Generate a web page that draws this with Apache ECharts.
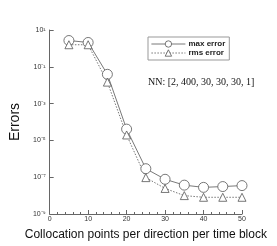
<!DOCTYPE html>
<html><head><meta charset="utf-8">
<script src="https://cdn.jsdelivr.net/npm/echarts@6/dist/echarts.min.js"></script>
<style>html,body{margin:0;padding:0;background:#fff}#c{width:277px;height:246px}</style>
</head><body><div id="c"></div>
<script>
const xValues = [5, 10, 15, 20, 25, 30, 35, 40, 45, 50];
const maxError = [2.68, 2.1, 0.039, 4.1e-5, 2.9e-7, 7.7e-8, 3.7e-8, 2.8e-8, 3.1e-8, 3.5e-8];
const rmsError = [1.58, 1.58, 0.0147, 1.97e-5, 9.5e-8, 2.45e-8, 1.0e-8, 8.1e-9, 8.1e-9, 8.1e-9];
const seriesNames = ['max error', 'rms error'];
const annotation = 'NN: [2, 400, 30, 30, 30, 1]';
const xTitle = 'Collocation points per direction per time block';
const yTitle = 'Errors';

const sup = {'-':'\u207B','0':'\u2070','1':'\u00B9','2':'\u00B2','3':'\u00B3','4':'\u2074','5':'\u2075','6':'\u2076','7':'\u2077','8':'\u2078','9':'\u2079'};
function supStr(n){return String(n).split('').map(c=>sup[c]).join('');}

const chart = echarts.init(document.getElementById('c'), null, {renderer:'canvas'});
const lineCol = '#555';
chart.setOption({
  animation:false,
  backgroundColor:'#fff',
  grid:{left:36, top:30, width:206, height:187, containLabel:false},
  legend:{
    orient:'vertical', left:148, top:37, padding:[3,4,3,3],
    borderColor:'#999', borderWidth:1,
    itemWidth:34, itemHeight:8, itemGap:1,
    lineStyle:{width:0.8},
    itemStyle:{borderWidth:0.8, color:'#fff'},
    textStyle:{fontSize:8, fontFamily:'Liberation Sans', color:'#222', fontWeight:'bold', padding:[0,0,0,-2]},
    data:seriesNames
  },
  xAxis:{
    type:'value', min:0, max:50, interval:10,
    name:xTitle, nameLocation:'middle', nameGap:15,
    nameTextStyle:{fontSize:12, fontFamily:'Liberation Sans', color:'#111'},
    axisLine:{lineStyle:{color:'#666', width:1}},
    axisTick:{inside:true, length:4, lineStyle:{color:'#666'}},
    minorTick:{show:true, splitNumber:5, length:2, lineStyle:{color:'#666'}},
    axisLabel:{fontSize:7, fontFamily:'Liberation Sans', color:'#333', margin:2},
    splitLine:{show:false}
  },
  yAxis:{
    type:'log', logBase:10, min:1e-9, max:10, interval:2,
    name:yTitle, nameLocation:'middle', nameGap:17, nameRotate:90,
    nameTextStyle:{fontSize:14, fontFamily:'Liberation Sans', color:'#111'},
    axisLine:{show:true, lineStyle:{color:'#666', width:1}},
    axisTick:{show:true, inside:true, length:4, lineStyle:{color:'#666'}},
    axisLabel:{fontSize:7, fontFamily:'Liberation Sans', color:'#333', margin:4,
      formatter:v=>'10'+supStr(Math.round(Math.log10(v)))},
    splitLine:{show:false}
  },
  series:[
    {name:seriesNames[0], type:'line', data:xValues.map((x,i)=>[x,maxError[i]]),
     symbol:'circle', symbolSize:10, showAllSymbol:true,
     lineStyle:{color:lineCol, width:0.8, type:'solid'},
     itemStyle:{color:'#fff', borderColor:lineCol, borderWidth:0.8}},
    {name:seriesNames[1], type:'line', data:xValues.map((x,i)=>[x,rmsError[i]]),
     symbol:'triangle', symbolSize:8, showAllSymbol:true,
     lineStyle:{color:lineCol, width:0.8, type:[1.5,1.5]},
     itemStyle:{color:'#fff', borderColor:lineCol, borderWidth:0.8}}
  ],
  graphic:[{type:'text', left:148, top:77,
    style:{text:annotation, font:'10px "Liberation Serif"', fill:'#111'}}]
});
</script></body></html>
